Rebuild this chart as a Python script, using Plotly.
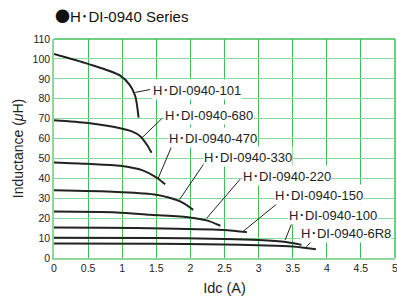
import plotly.graph_objects as go

# ---- data ----
idc_101 = [0, 0.5, 0.97, 1.11, 1.19, 1.24]
ind_101 = [102.5, 97.5, 91.6, 87.0, 81.5, 70.5]

idc_680 = [0, 0.5, 0.97, 1.15, 1.26, 1.36, 1.43]
ind_680 = [69.2, 67.8, 65.2, 63.5, 61.3, 57.0, 52.9]

idc_470 = [0, 0.5, 0.97, 1.3, 1.5, 1.63]
ind_470 = [48.0, 47.3, 46.3, 44.0, 40.5, 37.0]

idc_330 = [0, 0.92, 1.5, 1.85, 2.04]
ind_330 = [34.0, 33.2, 31.8, 28.4, 24.2]

idc_220 = [0, 0.92, 1.41, 1.99, 2.24, 2.44]
ind_220 = [23.3, 22.9, 21.7, 20.4, 18.9, 16.2]

idc_150 = [0, 1.41, 2.48, 2.83]
ind_150 = [15.3, 15.0, 14.1, 13.0]

idc_100 = [0, 1.5, 2.5, 3.0, 3.4, 3.63]
ind_100 = [10.2, 10.0, 9.6, 9.0, 8.0, 6.6]

idc_6r8 = [0, 1.5, 2.5, 3.0, 3.5, 3.84]
ind_6r8 = [7.3, 7.1, 6.8, 6.4, 5.8, 4.4]

DOT = "<span style=\"font-family:'Noto Sans CJK JP'\">･</span>"
series_suffix = ["101", "680", "470", "330", "220", "150", "100", "6R8"]
series_names = ["H" + DOT + "DI-0940-" + s for s in series_suffix]
series_x = [idc_101, idc_680, idc_470, idc_330, idc_220, idc_150, idc_100, idc_6r8]
series_y = [ind_101, ind_680, ind_470, ind_330, ind_220, ind_150, ind_100, ind_6r8]

# label positions: (curve point x, y) -> (label x, y)
leader_from = [(1.19, 83.2), (1.29, 60.4), (1.53, 40.2), (1.84, 29.3),
               (2.24, 20.0), (2.77, 13.3), (3.39, 9.1), (3.70, 5.7)]
leader_to = [(1.41, 84.6), (1.58, 70.0), (1.74, 57.3), (2.21, 48.0),
             (2.73, 39.6), (3.29, 27.8), (3.49, 17.7), (3.78, 8.4)]
label_pos = [(1.44, 84.6), (1.61, 71.9), (1.67, 60.4), (2.18, 51.2),
             (2.75, 41.4), (3.23, 31.8), (3.43, 21.7), (3.60, 12.8)]

x_ticks = [0, 0.5, 1, 1.5, 2, 2.5, 3, 3.5, 4, 4.5, 5]
x_tick_text = ["0", "0.5", "1", "1.5", "2", "2.5", "3", "3.5", "4", "4.5", "5"]
y_ticks = list(range(0, 111, 10))

FONT = "Liberation Sans, Arial, Noto Sans CJK JP, sans-serif"
DARK_GREEN = "#3cbf55"
LIGHT_GREEN = "#8fd89c"

W, H = 397, 305
ML, MR, MT, MB = 54, 2, 39, 47

fig = go.Figure()
for xs, ys, nm in zip(series_x, series_y, series_names):
    fig.add_trace(go.Scatter(x=xs, y=ys, mode="lines", name=nm,
                             line=dict(color="#222222", width=2, shape="spline", smoothing=0.8),
                             showlegend=False, hoverinfo="skip"))

shapes = []
shapes.append(dict(type="line", xref="paper", yref="paper", x0=0, x1=1, y0=1, y1=1,
                   line=dict(color=DARK_GREEN, width=1.5), layer="below"))
shapes.append(dict(type="line", xref="paper", yref="paper", x0=1, x1=1, y0=0, y1=1,
                   line=dict(color=DARK_GREEN, width=1.5), layer="below"))
for (fx, fy), (tx, ty) in zip(leader_from, leader_to):
    shapes.append(dict(type="line", xref="x", yref="y", x0=fx, y0=fy, x1=tx, y1=ty,
                       line=dict(color="#222222", width=1), layer="above"))

annotations = []
for (lx, ly), nm in zip(label_pos, series_names):
    annotations.append(dict(x=lx, y=ly, xref="x", yref="y", text=nm, showarrow=False,
                            xanchor="left", yanchor="middle", bgcolor="white", borderpad=0,
                            font=dict(family=FONT, size=13, color="#222222")))

plot_w = W - ML - MR
plot_h = H - MT - MB
title_text = ("<span style=\"font-family:'Noto Sans CJK JP'\">●</span>H" + DOT + "DI-0940 Series")
annotations.append(dict(x=(53 - ML) / plot_w, y=(H - 16 - MB) / plot_h,
                        xref="paper", yref="paper", yanchor="middle", xanchor="left",
                        text=title_text, showarrow=False,
                        font=dict(family=FONT, size=15, color="#111111")))

fig.update_layout(
    width=W, height=H,
    margin=dict(l=ML, r=MR, t=MT, b=MB),
    paper_bgcolor="white", plot_bgcolor="white",
    font=dict(family=FONT, color="#222222"),
    shapes=shapes,
    annotations=annotations,
)
fig.update_xaxes(range=[0, 5], tickvals=x_ticks, ticktext=x_tick_text,
                 showgrid=True, gridcolor=DARK_GREEN, gridwidth=1.3,
                 showline=True, linecolor=LIGHT_GREEN, linewidth=1.5,
                 zeroline=False, ticks="", tickfont=dict(size=10.5),
                 ticklabeloverflow="allow",
                 title=dict(text="Idc (A)", font=dict(size=14.5), standoff=10),
                 automargin=False, fixedrange=True)
fig.update_yaxes(range=[0, 110], tickvals=y_ticks,
                 showgrid=True, gridcolor=LIGHT_GREEN, gridwidth=1.3,
                 showline=True, linecolor=LIGHT_GREEN, linewidth=1.5,
                 zeroline=False, ticks="", tickfont=dict(size=10.5),
                 title=dict(text="Inductance (<i>μ</i>H)", font=dict(size=14), standoff=6),
                 automargin=False, fixedrange=True)

fig.write_html("out.html", config={"displayModeBar": False},
               post_script="document.body.style.margin='0';document.body.style.padding='0';")
